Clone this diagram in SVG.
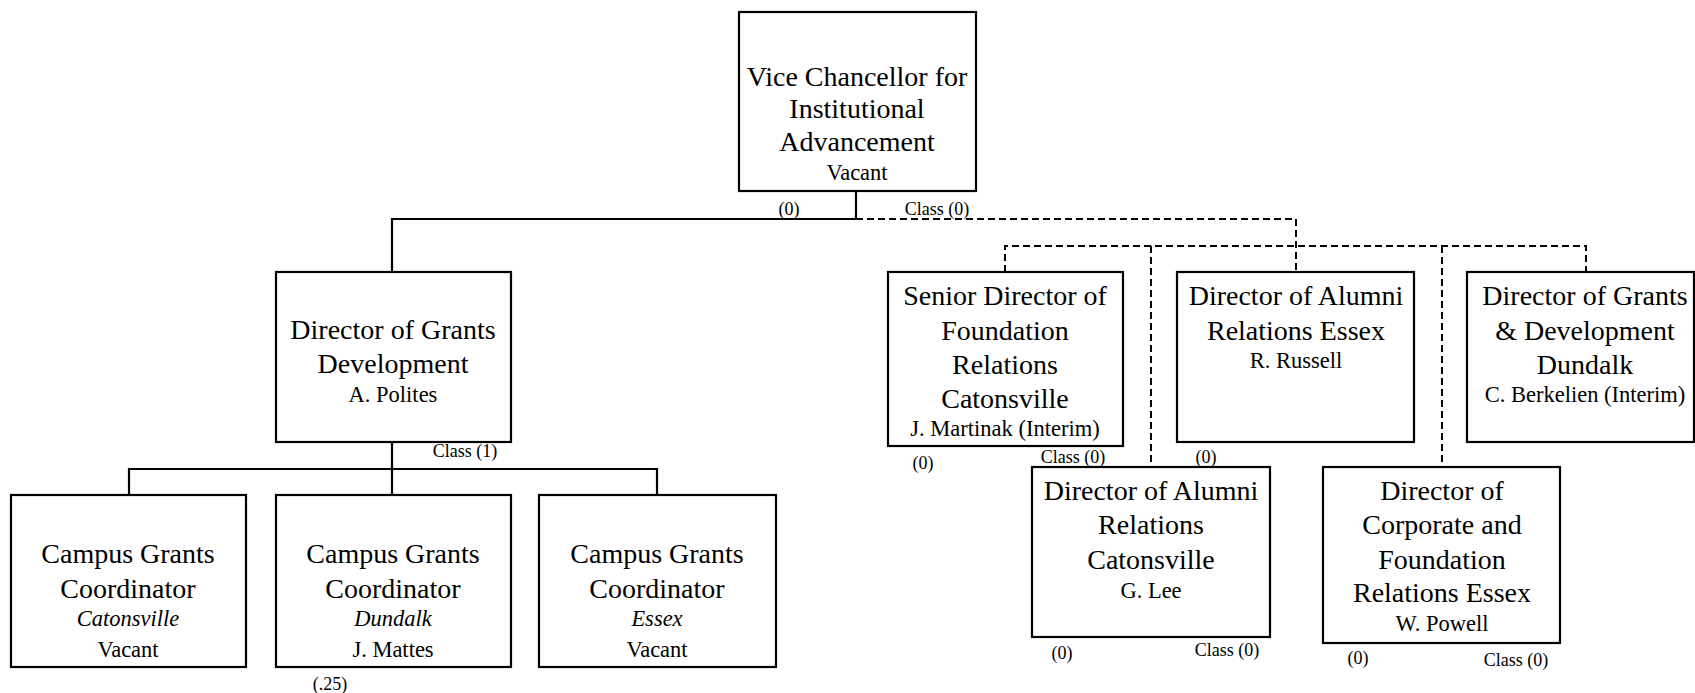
<svg xmlns="http://www.w3.org/2000/svg" width="1695" height="693" viewBox="0 0 1695 693">
<style>
.box{fill:#fff;stroke:#000;stroke-width:2.2}
.ln{fill:none;stroke:#000;stroke-width:2.2}
.dl{fill:none;stroke:#000;stroke-width:2;stroke-dasharray:7 4}
text{font-family:"Liberation Serif","Times New Roman",serif;fill:#000;text-anchor:middle}
.t{font-size:28px}
.n{font-size:22.5px}
.s{font-size:18px}
.i{font-style:italic}
</style>
<rect width="1695" height="693" fill="#fff"/>
<g id="connectors">
<path class="ln" d="M856 191V219H392V272M392 442V469M129 495V469H657V495M392 469V495"/>
<path class="dl" d="M856 219H1296V272M1005 272V246H1586V272M1151 246V467M1442 246V467"/>
</g>
<g id="vc">
<rect class="box" x="739" y="12" width="237" height="179"/>
<text class="t" x="857" y="86">Vice Chancellor for</text>
<text class="t" x="857" y="118">Institutional</text>
<text class="t" x="857" y="151">Advancement</text>
<text class="n" x="857" y="180">Vacant</text>
<text class="s" x="789" y="215">(0)</text>
<text class="s" x="937" y="215">Class (0)</text>
</g>
<g id="dgd">
<rect class="box" x="276" y="272" width="235" height="170"/>
<text class="t" x="393" y="339">Director of Grants</text>
<text class="t" x="393" y="373">Development</text>
<text class="n" x="393" y="402">A. Polites</text>
<text class="s" x="465" y="457">Class (1)</text>
</g>
<g id="cgc-cat">
<rect class="box" x="11" y="495" width="235" height="172"/>
<text class="t" x="128" y="563">Campus Grants</text>
<text class="t" x="128" y="598">Coordinator</text>
<text class="n i" x="128" y="626">Catonsville</text>
<text class="n" x="128" y="657">Vacant</text>
</g>
<g id="cgc-dun">
<rect class="box" x="276" y="495" width="235" height="172"/>
<text class="t" x="393" y="563">Campus Grants</text>
<text class="t" x="393" y="598">Coordinator</text>
<text class="n i" x="393" y="626">Dundalk</text>
<text class="n" x="393" y="657">J. Mattes</text>
<text class="s" x="330" y="690">(.25)</text>
</g>
<g id="cgc-ess">
<rect class="box" x="539" y="495" width="237" height="172"/>
<text class="t" x="657" y="563">Campus Grants</text>
<text class="t" x="657" y="598">Coordinator</text>
<text class="n i" x="657" y="626">Essex</text>
<text class="n" x="657" y="657">Vacant</text>
</g>
<g id="sdfr">
<rect class="box" x="888" y="272" width="235" height="174"/>
<text class="t" x="1005" y="305">Senior Director of</text>
<text class="t" x="1005" y="340">Foundation</text>
<text class="t" x="1005" y="374">Relations</text>
<text class="t" x="1005" y="408">Catonsville</text>
<text class="n" x="1005" y="436">J. Martinak (Interim)</text>
<text class="s" x="923" y="469">(0)</text>
<text class="s" x="1073" y="463">Class (0)</text>
</g>
<g id="dare">
<rect class="box" x="1177" y="272" width="237" height="170"/>
<text class="t" x="1296" y="305">Director of Alumni</text>
<text class="t" x="1296" y="340">Relations Essex</text>
<text class="n" x="1296" y="368">R. Russell</text>
<text class="s" x="1206" y="463">(0)</text>
</g>
<g id="dgdd">
<rect class="box" x="1467" y="272" width="227" height="170"/>
<text class="t" x="1585" y="305">Director of Grants</text>
<text class="t" x="1585" y="340">&amp; Development</text>
<text class="t" x="1585" y="374">Dundalk</text>
<text class="n" x="1585" y="402">C. Berkelien (Interim)</text>
</g>
<g id="darc">
<rect class="box" x="1032" y="467" width="238" height="170"/>
<text class="t" x="1151" y="500">Director of Alumni</text>
<text class="t" x="1151" y="534">Relations</text>
<text class="t" x="1151" y="569">Catonsville</text>
<text class="n" x="1151" y="598">G. Lee</text>
<text class="s" x="1062" y="659">(0)</text>
<text class="s" x="1227" y="656">Class (0)</text>
</g>
<g id="dcfr">
<rect class="box" x="1323" y="467" width="237" height="176"/>
<text class="t" x="1442" y="500">Director of</text>
<text class="t" x="1442" y="534">Corporate and</text>
<text class="t" x="1442" y="569">Foundation</text>
<text class="t" x="1442" y="602">Relations Essex</text>
<text class="n" x="1442" y="631">W. Powell</text>
<text class="s" x="1358" y="664">(0)</text>
<text class="s" x="1516" y="666">Class (0)</text>
</g>
</svg>
